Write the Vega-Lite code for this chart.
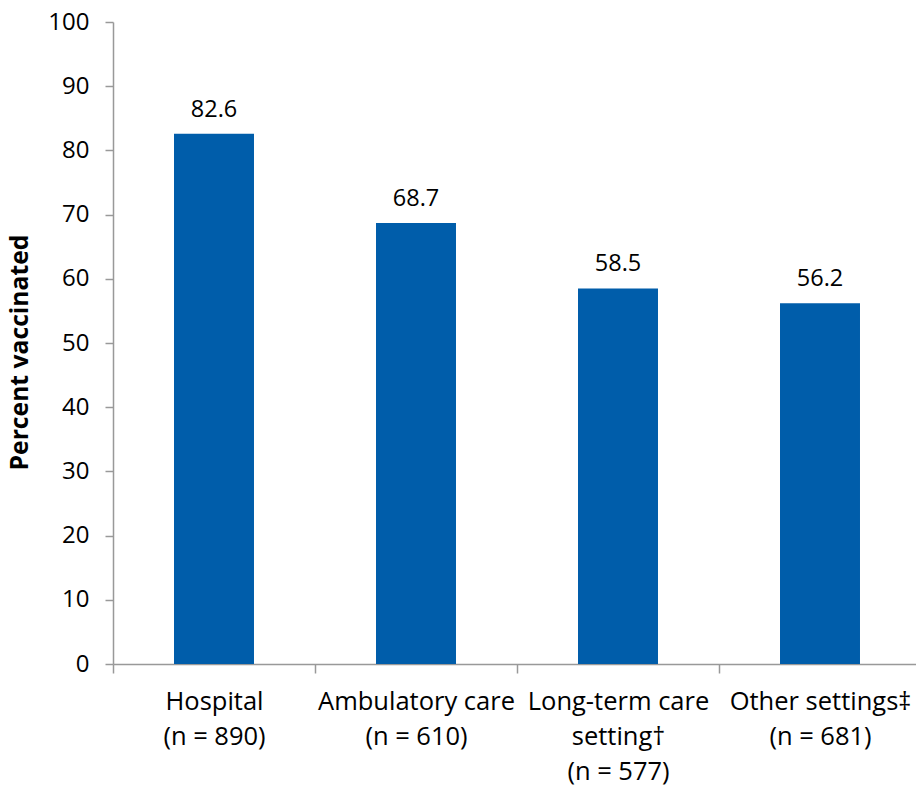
{
  "$schema": "https://vega.github.io/schema/vega-lite/v6.json",
  "autosize": "none",
  "width": 803,
  "height": 642,
  "padding": {"left": 113, "top": 22, "right": 0, "bottom": 124},
  "background": "white",
  "config": {
    "view": {"stroke": null},
    "font": "Open Sans"
  },
  "data": {
    "values": [
      {"setting": "Hospital|(n = 890)", "percent": 82.6},
      {"setting": "Ambulatory care|(n = 610)", "percent": 68.7},
      {"setting": "Long-term care|setting†|(n = 577)", "percent": 58.5},
      {"setting": "Other settings‡|(n = 681)", "percent": 56.2}
    ]
  },
  "encoding": {
    "x": {
      "field": "setting",
      "type": "nominal",
      "sort": null,
      "scale": {"range": [0, 808], "paddingInner": 0, "paddingOuter": 0},
      "axis": {
        "title": null,
        "labelAngle": 0,
        "labelExpr": "datum.value ? split(datum.value, '|') : ''",
        "labelFont": "Open Sans",
        "labelFontSize": 25.5,
        "labelColor": "#000000",
        "labelLineHeight": 35,
        "labelPadding": 16,
        "labelOverlap": false,
        "labelLimit": 400,
        "labelBaseline": "top",
        "tickBand": "extent",
        "tickSize": 9,
        "tickColor": "#999999",
        "domainColor": "#999999",
        "domainWidth": 1.5,
        "tickWidth": 1.5
      }
    },
    "y": {
      "field": "percent",
      "type": "quantitative",
      "scale": {"domain": [0, 100], "nice": false, "zero": true},
      "axis": {
        "title": "Percent vaccinated",
        "titleFont": "Open Sans",
        "titleFontSize": 24.7,
        "titleFontWeight": "bold",
        "titleColor": "#000000",
        "titlePadding": 15,
        "titleY": 330,
        "values": [0, 10, 20, 30, 40, 50, 60, 70, 80, 90, 100],
        "grid": false,
        "labelFont": "Open Sans",
        "labelFontSize": 24,
        "labelColor": "#000000",
        "labelPadding": 16,
        "tickSize": 8,
        "tickColor": "#999999",
        "domainColor": "#999999",
        "domainWidth": 1.5,
        "tickWidth": 1.5
      }
    }
  },
  "layer": [
    {
      "mark": {"type": "bar", "color": "#005DAA", "width": {"band": 0.396}}
    },
    {
      "mark": {
        "type": "text",
        "baseline": "alphabetic",
        "dy": -17,
        "font": "Open Sans",
        "fontSize": 23.5,
        "color": "#000000"
      },
      "encoding": {
        "text": {"field": "percent", "type": "quantitative", "format": ".1f"}
      }
    }
  ]
}
